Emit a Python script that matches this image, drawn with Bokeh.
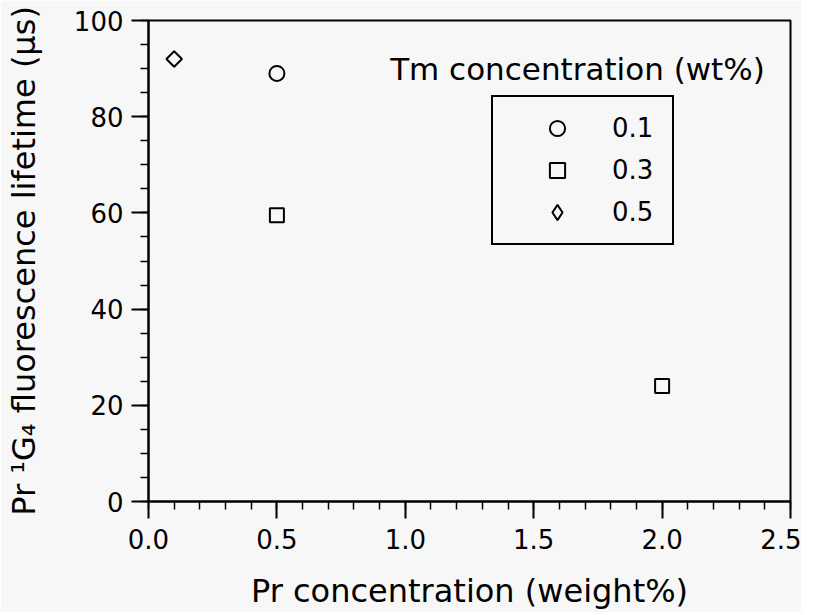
import numpy as np
from bokeh.plotting import figure
from bokeh.models import (Legend, LegendItem, Label, Range1d, FixedTicker,
                          NumeralTickFormatter)
from bokeh.embed import file_html
from bokeh.resources import INLINE

# ---- data ----
x_ticks = [0.0, 0.5, 1.0, 1.5, 2.0, 2.5]
y_ticks = [0, 20, 40, 60, 80, 100]
series_names = ["0.1", "0.3", "0.5"]
pr_tm01 = [0.5]
life_tm01 = [89.0]
pr_tm03 = [0.5, 2.0]
life_tm03 = [59.5, 24.0]
pr_tm05 = [0.1]
life_tm05 = [92.0]

FONT = "DejaVu Sans"
BG = "#f7f7f7"

p = figure(frame_width=642, frame_height=481,
           min_border_left=148, min_border_right=11,
           min_border_top=20, min_border_bottom=0,
           x_range=Range1d(0, 2.5), y_range=Range1d(0, 100),
           output_backend="svg", toolbar_location=None,
           background_fill_color=BG, border_fill_color=BG)

p.grid.visible = False
p.outline_line_color = "black"
p.outline_line_width = 2
p.outline_line_alpha = 1

for ax in (p.xaxis[0], p.yaxis[0]):
    ax.axis_line_width = 2
    ax.major_tick_line_width = 2
    ax.minor_tick_line_width = 1.5
    ax.major_tick_out = 17
    ax.major_tick_in = 0
    ax.minor_tick_out = 8
    ax.minor_tick_in = 0
    ax.major_label_text_font = FONT
    ax.major_label_text_font_size = "26px"
    ax.major_label_text_color = "black"
    ax.axis_label_text_font = FONT
    ax.axis_label_text_font_size = "32px"
    ax.axis_label_text_font_style = "normal"
    ax.axis_label_text_color = "black"

p.xaxis[0].ticker = FixedTicker(ticks=x_ticks,
                                minor_ticks=list(np.round(np.arange(0, 2.51, 0.1), 2)))
p.yaxis[0].ticker = FixedTicker(ticks=y_ticks,
                                minor_ticks=list(range(0, 101, 5)))
p.xaxis[0].formatter = NumeralTickFormatter(format="0.0")
p.yaxis[0].formatter = NumeralTickFormatter(format="0")
p.xaxis[0].major_label_standoff = 10
p.yaxis[0].major_label_standoff = 8
p.xaxis[0].axis_label = "Pr concentration (weight%)"
p.yaxis[0].axis_label = "Pr \u00b9G\u2084 fluorescence lifetime (\u00b5s)"
p.xaxis[0].axis_label_standoff = 20
p.yaxis[0].axis_label_standoff = 28

r1 = p.scatter(pr_tm01, life_tm01, marker="circle", size=15,
               fill_color=None, line_color="black", line_width=2)
r2 = p.scatter(pr_tm03, life_tm03, marker="square", size=14,
               fill_color=None, line_color="black", line_width=2)
r3 = p.scatter(pr_tm05, life_tm05, marker="square", size=11, angle=np.pi / 4,
               fill_color=None, line_color="black", line_width=2)
# legend swatch for the diamond series (legend swatches ignore angle); hidden in the plot
r3_key = p.scatter(pr_tm05, life_tm05, marker="diamond", visible=False,
                   fill_color=None, line_color="black", line_width=2)

legend = Legend(items=[LegendItem(label=series_names[0], renderers=[r1]),
                       LegendItem(label=series_names[1], renderers=[r2]),
                       LegendItem(label=series_names[2], renderers=[r3_key])],
                location=(343, 256),
                border_line_color="black", border_line_width=2, border_line_alpha=1,
                background_fill_color=BG, background_fill_alpha=1,
                label_text_font=FONT, label_text_font_size="26px",
                label_text_color="black",
                glyph_width=104, glyph_height=38, label_height=38, label_width=48,
                label_standoff=3, padding=12, spacing=4, margin=0)
p.add_layout(legend)

title = Label(x=2.40, y=90.0, text="Tm concentration (wt%)",
              text_align="right", text_baseline="alphabetic",
              text_font=FONT, text_font_size="31px", text_color="black")
p.add_layout(title)

open("out.html", "w").write(file_html(p, INLINE))
